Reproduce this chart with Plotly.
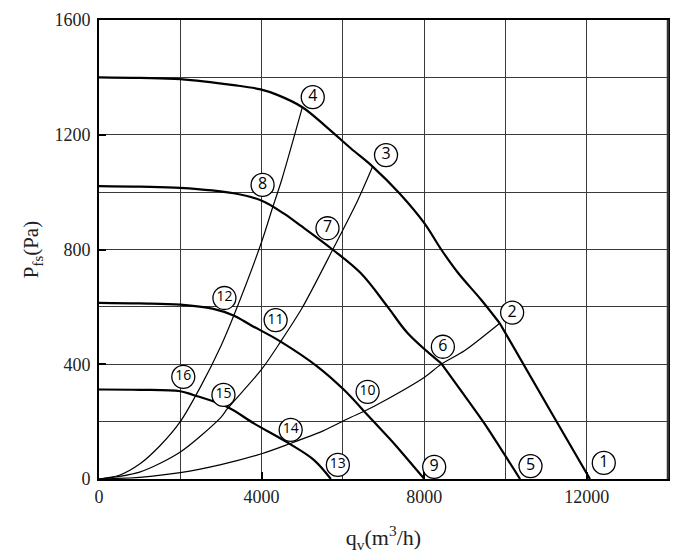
import plotly.graph_objects as go

# ---- data ----
# fan characteristic curves (thick)
fan4_q = [0, 1000, 2000, 3317, 3975, 4387, 5004, 5622, 6200, 6733, 7391, 8008, 8420, 8832, 9407, 9860, 11136, 12080]
fan4_p = [1400, 1398, 1394, 1373, 1358, 1339, 1296, 1224, 1152, 1089, 996, 891, 800, 719, 624, 543, 230, 0]
fan4_kink = 15

fan3_q = [0, 1000, 2000, 3317, 4007, 4551, 4963, 5745, 6444, 7103, 7597, 8420, 9490, 10360]
fan3_p = [1021, 1019, 1015, 996, 970, 925, 883, 800, 717, 600, 508, 403, 192, 0]
fan3_kink = 11

fan2_q = [0, 1000, 2000, 2815, 3309, 3728, 4469, 5374, 6033, 6526, 7268, 8005]
fan2_p = [614, 612, 608, 593, 570, 537, 479, 392, 310, 235, 122, 0]
fan2_kink = 9

fan1_q = [0, 1000, 2000, 2320, 3160, 3810, 4674, 5291, 5704]
fan1_p = [312, 311, 306, 293, 251, 194, 124, 66, 0]

# system (pipe) curves (thin)
sysA_q = [0, 500, 1000, 1500, 2000, 2500, 3000, 3317, 4000, 4264, 4500, 5004]
sysA_p = [0, 13, 52, 116, 200, 322, 464, 570, 826, 943, 1045, 1296]

sysB_q = [0, 1000, 2000, 3000, 3160, 4000, 4469, 5000, 5745, 6362, 6733]
sysB_p = [0, 24, 94, 215, 245, 382, 479, 597, 798, 970, 1089]

sysC_q = [0, 1000, 2000, 3000, 4000, 4674, 5500, 6198, 6526, 7000, 8000, 8420, 9000, 9860]
sysC_p = [0, 6, 22, 50, 88, 122, 167, 215, 236, 271, 354, 400, 448, 543]

# circled point labels
label_text = ["①", "②", "③", "④", "⑤", "⑥", "⑦", "⑧",
              "⑨", "⑩", "⑪", "⑫", "⑬", "⑭", "⑮", "⑯"]
label_num = ["1", "2", "3", "4", "5", "6", "7", "8",
             "9", "10", "11", "12", "13", "14", "15", "16"]
label_q = [12420, 10165, 7062, 5259, 10617, 8461, 5622, 4025,
           8247, 6609, 4346, 3086, 5877, 4716, 3062, 2074]
label_p = [56, 580, 1129, 1331, 45, 461, 874, 1025,
           42, 304, 554, 631, 49, 171, 293, 356]

x_ticks = [0, 4000, 8000, 12000]
y_ticks = [0, 400, 800, 1200, 1600]

fig = go.Figure()

thick = dict(color="black", width=2.2)
thin = dict(color="black", width=1.2)

for q, p in [(sysA_q, sysA_p), (sysB_q, sysB_p), (sysC_q, sysC_p)]:
    fig.add_trace(go.Scatter(x=q, y=p, mode="lines", line=dict(thin, shape="spline", smoothing=0.8),
                             hoverinfo="skip", showlegend=False))

for q, p, k in [(fan4_q, fan4_p, fan4_kink), (fan3_q, fan3_p, fan3_kink),
                (fan2_q, fan2_p, fan2_kink), (fan1_q, fan1_p, len(fan1_q) - 1)]:
    fig.add_trace(go.Scatter(x=q[:k + 1], y=p[:k + 1], mode="lines",
                             line=dict(thick, shape="spline", smoothing=1.0),
                             hoverinfo="skip", showlegend=False))
    if k < len(q) - 1:
        fig.add_trace(go.Scatter(x=q[k:], y=p[k:], mode="lines",
                                 line=dict(thick, shape="spline", smoothing=0.5),
                                 hoverinfo="skip", showlegend=False))

fig.add_trace(go.Scatter(
    x=label_q, y=label_p, mode="markers+text",
    marker=dict(symbol="circle", size=23, color="white", line=dict(color="black", width=1.3)),
    text=label_num, textposition="middle center",
    textfont=dict(family="Open Sans", color="black",
                  size=[16 if len(t) == 1 else 14 for t in label_num]),
    hovertext=label_text, hoverinfo="text", cliponaxis=False, showlegend=False))

grid_col = "#3a3a3a"
fig.update_xaxes(
    range=[0, 14000], tickvals=x_ticks, ticktext=[str(v) for v in x_ticks],
    showgrid=True, gridcolor=grid_col, gridwidth=1,
    minor=dict(dtick=2000, tick0=0, showgrid=True, gridcolor=grid_col, gridwidth=1),
    showline=True, linecolor="black", linewidth=1.8, mirror=True,
    ticks="inside", ticklen=7, tickcolor="black", tickwidth=1.5,
    zeroline=False, automargin=False,
    tickfont=dict(family="Liberation Serif", size=18, color="#222"),
    title=dict(text="q<sub>v</sub>(m<sup>3</sup>/h)", standoff=24,
               font=dict(family="Liberation Serif", size=22, color="#222")),
)
fig.update_yaxes(
    range=[0, 1600], tickvals=y_ticks, ticktext=[str(v) for v in y_ticks],
    showgrid=True, gridcolor=grid_col, gridwidth=1,
    minor=dict(dtick=200, tick0=0, showgrid=True, gridcolor=grid_col, gridwidth=1),
    showline=True, linecolor="black", linewidth=1.8, mirror=True,
    ticks="inside", ticklen=7, tickcolor="black", tickwidth=1.5,
    zeroline=False, automargin=False, ticklabelstandoff=3,
    tickfont=dict(family="Liberation Serif", size=18, color="#222"),
    title=dict(text="P<sub>fs</sub>(Pa)", standoff=10,
               font=dict(family="Liberation Serif", size=21, color="#222")),
)

fig.add_shape(type="line", xref="paper", yref="paper", x0=1, x1=1, y0=0, y1=1,
              line=dict(color="#333", width=2.5))

# the page body adds an 8px offset, so the margins compensate for it
fig.update_layout(
    width=700, height=558,
    margin=dict(l=91, r=40, t=12, b=87),
    plot_bgcolor="white", paper_bgcolor="white",
)

fig.write_html("out.html")
